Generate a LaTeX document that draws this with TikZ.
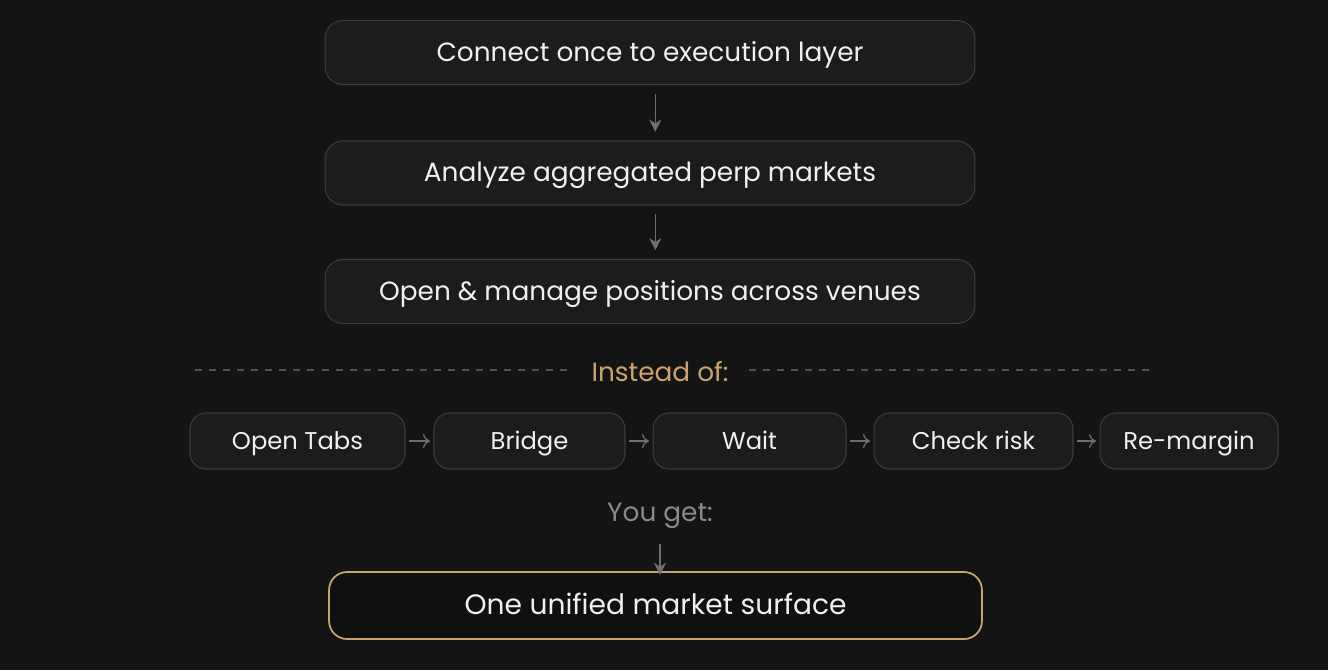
\documentclass[tikz,border=0pt]{standalone}
\usepackage{fontspec}
\setmainfont{Poppins}
\usepackage{xcolor}
\usetikzlibrary{arrows.meta}

\definecolor{bgdark}{HTML}{141414}
\definecolor{boxfill}{HTML}{1C1C1C}
\definecolor{boxline}{HTML}{3C3C3C}
\definecolor{goldtxt}{HTML}{C9A46E}
\definecolor{arrowgray}{HTML}{6E6E6E}
\definecolor{mutedtxt}{HTML}{8A8A8A}

\begin{document}
\begin{tikzpicture}[
    x=0.02cm, y=-0.02cm,
    stepbox/.style={draw=boxline, line width=0.6pt, fill=boxfill, rounded corners=0.36cm,
        text=white!94!black, font=\fontsize{15}{17}\selectfont, inner sep=0pt,
        text height=2ex, text depth=0.2ex},
    bigbox/.style={stepbox, minimum width=13cm, minimum height=1.28cm},
    smallbox/.style={stepbox, minimum height=1.12cm, rounded corners=0.32cm,
        font=\fontsize{13.8}{16}\selectfont},
    >={Stealth[length=7pt, width=7pt]}
]

% Background and bounds
\fill[bgdark] (0,0) rectangle (1328,670);
\useasboundingbox (0,0) rectangle (1328,670);

% Main steps
\node[bigbox] (connect) at (650,52.5) {Connect once to execution layer};
\node[bigbox] (analyze) at (650,173) {Analyze aggregated perp markets};
\node[bigbox] (openmanage) at (650,291.5) {Open \& manage positions across venues};

\draw[->, arrowgray, line width=0.8pt] ([xshift=3pt, yshift=-5pt]connect.south) -- ([xshift=3pt, yshift=5pt]analyze.north);
\draw[->, arrowgray, line width=0.8pt] ([xshift=3pt, yshift=-5pt]analyze.south) -- ([xshift=3pt, yshift=5pt]openmanage.north);

% Divider
\node[text=goldtxt, font=\fontsize{15}{17}\selectfont] (insteadof) at (660,372) {Instead of:};
\coordinate (divleft) at (195,370);
\coordinate (divright) at (1152,370);
\draw[boxline!90!white, dash pattern=on 4pt off 4pt, line width=0.6pt] (divleft) -- ([xshift=-8pt]insteadof.west |- divleft);
\draw[boxline!90!white, dash pattern=on 4pt off 4pt, line width=0.6pt] ([xshift=8pt]insteadof.east |- divright) -- (divright);

% Old workflow
\node[smallbox, minimum width=4.3cm] (tabs) at (297.5,441) {Open Tabs};
\node[smallbox, minimum width=3.82cm] (bridge) at (529.5,441) {Bridge};
\node[smallbox, minimum width=3.86cm] (wait) at (749.5,441) {Wait};
\node[smallbox, minimum width=3.98cm] (risk) at (973.5,441) {Check risk};
\node[smallbox, minimum width=3.56cm] (remargin) at (1189,441) {Re-margin};

\foreach \a/\b in {tabs/bridge, bridge/wait, wait/risk, risk/remargin}
    \draw[-{To[length=4pt, width=8pt]}, arrowgray, line width=0.7pt] ([xshift=2pt]\a.east) -- ([xshift=-2pt]\b.west);

% Result
\node[text=mutedtxt, font=\fontsize{15}{17}\selectfont] (youget) at (660,516) {You get:};
\coordinate (getarrow) at (660,575);
\node[stepbox, draw=goldtxt, line width=1pt, fill=bgdark!80!black, minimum width=13.06cm,
    minimum height=1.34cm, font=\fontsize{16}{19}\selectfont] (unified) at (655.5,605.5) {One unified market surface};
\draw[->, arrowgray, line width=0.8pt] ([yshift=-5pt]youget.south) -- (getarrow);

\end{tikzpicture}
\end{document}
